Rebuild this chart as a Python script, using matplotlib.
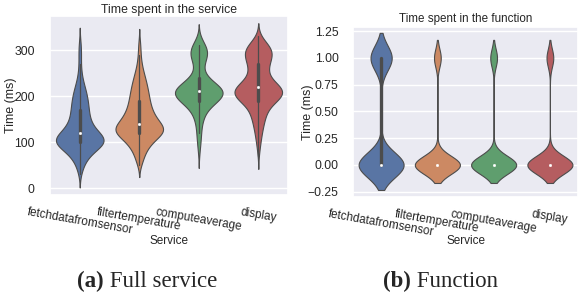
import numpy as np
import pandas as pd
import matplotlib
matplotlib.use("Agg")
import matplotlib.pyplot as plt
import seaborn as sns

# services on the x axis
services = ["fetchdatafromsensor", "filtertemperature", "computeaverage", "display"]

# full service time: sample values (ms) and how many samples fall on each value
bins_ms = [30, 40, 50, 60, 70, 80, 90, 100, 110, 120, 130, 140, 150, 160, 170, 180,
           190, 200, 210, 220, 230, 240, 250, 260, 270, 280, 290, 300, 310, 320, 330]
fetch_counts = [5, 9, 14, 22, 33, 50, 78, 105, 98, 70, 52, 42, 37, 33, 33, 31,
                29, 27, 23, 18, 13, 9, 6, 5, 4, 4, 5, 5, 4, 3, 0]
filter_counts = [0, 0, 10, 16, 22, 30, 42, 60, 82, 120, 125, 100, 80, 68, 58, 52,
                 48, 44, 41, 37, 32, 27, 21, 15, 11, 8, 6, 6, 5, 4, 0]
compute_counts = [0, 0, 0, 0, 2, 3, 5, 7, 8, 9, 10, 12, 17, 22, 32, 50,
                  75, 98, 105, 88, 55, 36, 20, 15, 20, 28, 36, 36, 27, 14, 5]
display_counts = [0, 0, 0, 0, 2, 3, 5, 7, 9, 11, 14, 17, 20, 24, 29, 36,
                  60, 80, 90, 75, 50, 35, 28, 30, 34, 40, 46, 48, 36, 18, 7]

# function time: measured with ms resolution, so only 0 or 1
func_ms = [0, 1]
fetch_func_counts = [680, 320]
filter_func_counts = [870, 130]
compute_func_counts = [870, 130]
display_func_counts = [870, 130]


def long_table(values, counts_list):
    parts = []
    for name, counts in zip(services, counts_list):
        parts.append(pd.DataFrame({"Service": name,
                                   "Time (ms)": np.repeat(values, counts)}))
    return pd.concat(parts, ignore_index=True)


service_df = long_table(bins_ms, [fetch_counts, filter_counts, compute_counts, display_counts])
func_df = long_table(func_ms, [fetch_func_counts, filter_func_counts,
                               compute_func_counts, display_func_counts])

sns.set_theme(style="darkgrid")
plt.rcParams["font.family"] = ["Liberation Sans", "DejaVu Sans"]

fig = plt.figure(figsize=(5.8, 2.96), dpi=100)
ax1 = fig.add_axes([0.0862, 0.341, 0.4104, 0.605])
ax2 = fig.add_axes([0.6086, 0.3345, 0.388, 0.5745])

inner = dict(box_width=2.4, whis_width=0.9, marker="o", markersize=1.6)
for ax, df in [(ax1, service_df), (ax2, func_df)]:
    sns.violinplot(data=df, x="Service", y="Time (ms)", hue="Service",
                   order=services, palette="deep", legend=False,
                   linewidth=0.8, inner_kws=inner, ax=ax)

ax1.set_ylim(-15, 374)
ax1.set_yticks([0, 100, 200, 300])
ax1.set_title("Time spent in the service", fontsize=8.8, pad=2.5)
ax2.set_ylim(-0.30, 1.29)
ax2.set_yticks([-0.25, 0, 0.25, 0.5, 0.75, 1.0, 1.25])
ax2.set_yticklabels(["\u22120.25", "0.00", "0.25", "0.50", "0.75", "1.00", "1.25"])
ax2.set_title("Time spent in the function", fontsize=8.4, pad=3.5)

for ax, ylab_x, ypad in [(ax1, -0.138, 5), (ax2, -0.172, 4.3)]:
    ax.tick_params(axis="x", labelrotation=-10, labelsize=8.5, pad=2)
    ax.tick_params(axis="y", labelsize=8.8, pad=ypad)
    ax.set_xlabel("Service", fontsize=8.5)
    ax.set_ylabel("Time (ms)", fontsize=9)
    ax.yaxis.set_label_coords(ylab_x, 0.5)
    ax.xaxis.set_label_coords(0.5, -0.222)

# subfigure captions
serif = ["Liberation Serif", "DejaVu Serif"]
for x, tag, text in [(0.133, "(a)", " Full service"), (0.66, "(b)", " Function")]:
    t = fig.text(x, 0.03, tag, fontsize=16.5, fontweight="bold", family=serif, va="baseline")
    plt.annotate(text, xy=(1, 0), xycoords=t, fontsize=16.5, family=serif,
                 va="bottom", annotation_clip=False)

fig.savefig("out.png", dpi=100)
